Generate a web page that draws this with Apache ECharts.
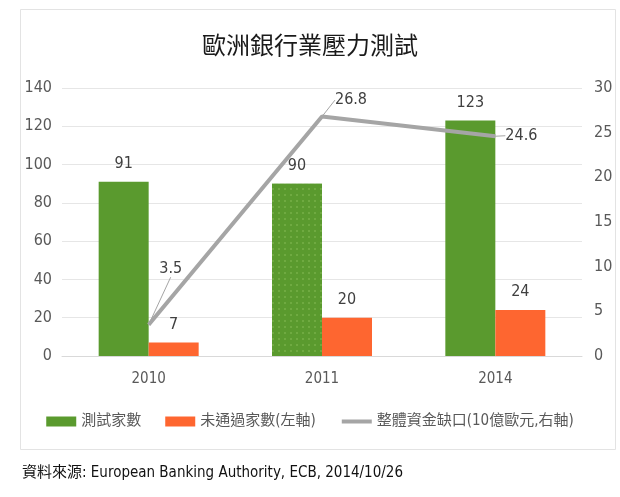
<!DOCTYPE html>
<html><head><meta charset="utf-8">
<script src="https://cdn.jsdelivr.net/npm/echarts@6/dist/echarts.min.js"></script>
<style>html,body{margin:0;padding:0;background:#fff}#c{width:620px;height:497px}</style>
</head><body><div id="c"></div>
<script>
var categories = ['2010', '2011', '2014'];
var testedBanks = [91, 90, 123];
var failedBanks = [7, 20, 24];
var capitalGap = [3.5, 26.8, 24.6];
var seriesNames = ['測試家數', '未通過家數(左軸)', '整體資金缺口(10億歐元,右軸)'];
var titleText = '歐洲銀行業壓力測試';
var sourceText = '資料來源: European Banking Authority, ECB, 2014/10/26';

var FONT = "'Liberation Sans Narrow', 'DejaVu Sans Condensed', 'Noto Sans CJK TC', sans-serif";
var chart = echarts.init(document.getElementById('c'), null, {renderer: 'canvas'});
var lineLabelShift = [[22, -42], [29, -3], [26, 13]];

chart.setOption({
  backgroundColor: '#fff',
  animation: false,
  textStyle: {fontFamily: FONT},
  graphic: [
    {type: 'rect', shape: {x: 20.5, y: 9.5, width: 595, height: 440}, style: {fill: 'none', stroke: '#e3e3e3', lineWidth: 1}, silent: true, z: -1},
    {type: 'text', left: 22, top: 466, style: {text: sourceText, fontSize: 15, fill: '#111', fontFamily: FONT}}
  ],
  title: {
    text: titleText, left: 'center', top: 28,
    textStyle: {fontSize: 24, fontWeight: 'normal', color: '#1a1a1a', fontFamily: "'Noto Sans CJK TC', sans-serif"}
  },
  legend: {
    bottom: 63, left: 'center', itemWidth: 30, itemHeight: 10, itemGap: 24,
    textStyle: {fontSize: 15, color: '#595959', fontFamily: FONT},
    data: [
      {name: seriesNames[0], icon: 'rect'},
      {name: seriesNames[1], icon: 'rect'},
      {name: seriesNames[2], itemStyle: {color: 'rgba(0,0,0,0)', borderWidth: 0, opacity: 0}, lineStyle: {width: 4, color: '#a5a5a5'}}
    ]
  },
  grid: {left: 62, right: 38, top: 88, bottom: 141, containLabel: false},
  xAxis: {
    type: 'category', data: categories,
    axisLine: {lineStyle: {color: '#d9d9d9'}},
    axisTick: {show: false},
    axisLabel: {color: '#595959', fontSize: 15, margin: 16, fontFamily: FONT}
  },
  yAxis: [
    {type: 'value', min: 0, max: 140, interval: 20,
     axisLine: {show: false}, axisTick: {show: false},
     axisLabel: {color: '#595959', fontSize: 16, margin: 10, fontFamily: FONT},
     splitLine: {lineStyle: {color: '#e6e6e6'}}},
    {type: 'value', min: 0, max: 30, interval: 5,
     axisLine: {show: false}, axisTick: {show: false},
     axisLabel: {color: '#595959', fontSize: 16, margin: 12, fontFamily: FONT},
     splitLine: {show: false}}
  ],
  series: [
    {name: seriesNames[0], type: 'bar', barWidth: 50, barGap: '0%',
     itemStyle: {color: '#5a9a2e'},
     data: testedBanks.map(function (v, i) {
       var d = {value: v};
       if (i === 1) d.itemStyle = {decal: {symbol: 'circle', symbolSize: 0.25, color: 'rgba(190,230,140,0.55)', backgroundColor: '#5a9a2e', dashArrayX: [6, 0], dashArrayY: [6, 0], rotation: 0}};
       return d;
     }),
     label: {show: true, position: 'top', distance: 10, color: '#404040', fontSize: 16, fontFamily: FONT}},
    {name: seriesNames[1], type: 'bar', barWidth: 50, barGap: '0%',
     itemStyle: {color: '#fe6630'},
     data: failedBanks,
     label: {show: true, position: 'top', distance: 10, color: '#404040', fontSize: 16, fontFamily: FONT}},
    {name: seriesNames[2], type: 'line', yAxisIndex: 1, data: capitalGap,
     symbol: 'circle', symbolSize: 1, showSymbol: true,
     lineStyle: {color: '#a5a5a5', width: 4},
     itemStyle: {color: '#a5a5a5'},
     label: {show: true, position: 'top', color: '#404040', fontSize: 16, fontFamily: FONT},
     labelLine: {show: true, lineStyle: {color: '#a5a5a5', width: 1}},
     labelLayout: function (p) {
       var s = lineLabelShift[p.dataIndex];
       return {dx: s[0], dy: s[1]};
     },
     z: 5}
  ]
});
</script></body></html>
